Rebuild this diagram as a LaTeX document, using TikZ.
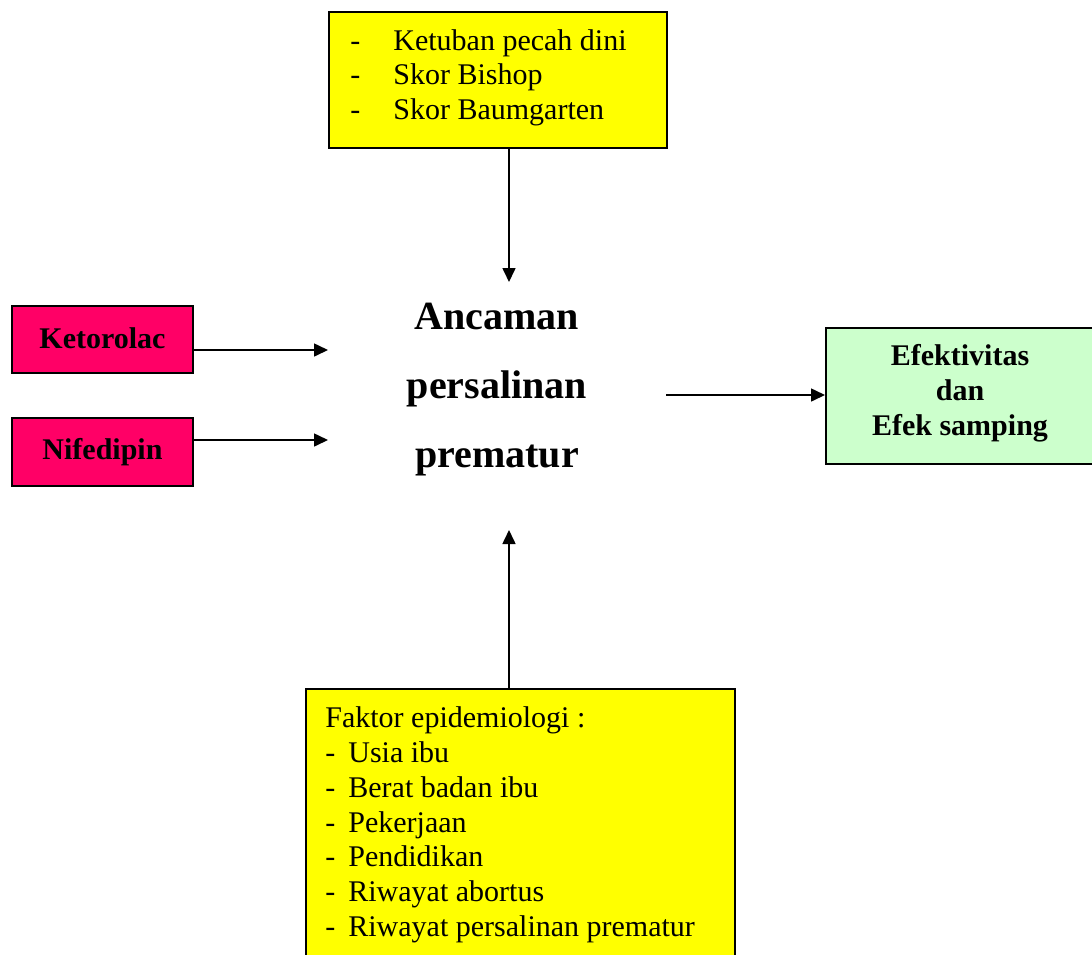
\documentclass[tikz,border=0pt]{standalone}
\usepackage{fontspec}
\setmainfont{Liberation Serif}
\usetikzlibrary{arrows.meta}
\definecolor{boxyellow}{HTML}{FFFF00}
\definecolor{boxpink}{HTML}{FF0066}
\definecolor{boxgreen}{HTML}{CCFFCC}
\begin{document}
\begin{tikzpicture}[x=0.5pt,y=-0.5pt,
  box/.style={draw=black, line width=1pt, inner sep=0pt, anchor=north west},
  txt/.style={inner sep=0pt, font=\fontsize{15}{17}\selectfont},
  conn/.style={line width=0.8pt, -{Triangle[length=7pt,width=6.5pt]}}]
\useasboundingbox[fill=white] (0,0) rectangle (1092,954);
% top box
\node[box, fill=boxyellow, minimum width=169pt, minimum height=68pt] (risk) at (328,11) {};
\node[txt, anchor=west, font=\fontsize{15}{17.3}\selectfont] (risktxt) at (350,78) {\begin{tabular}{@{}p{21.5pt}@{}l@{}}-&Ketuban pecah dini\\-&Skor Bishop\\-&Skor Baumgarten\end{tabular}};
% drug boxes
\node[box, fill=boxpink, minimum width=90.5pt, minimum height=33.5pt, font=\fontsize{15}{17}\selectfont\bfseries] (keto) at (11,305) {\raisebox{1.5pt}{Ketorolac}};
\node[box, fill=boxpink, minimum width=90.5pt, minimum height=34pt, font=\fontsize{15}{17}\selectfont\bfseries] (nife) at (11,417) {\raisebox{1pt}{Nifedipin}};
% central text
\node[align=center, inner sep=0pt, font=\fontsize{20}{34.5}\selectfont\bfseries] (threat) at (497,390) {Ancaman\\persalinan\\prematur};
% outcome box
\node[box, fill=boxgreen, minimum width=136pt, minimum height=68pt] (outcome) at (825,327) {};
\node[txt, align=center, font=\fontsize{15}{17.5}\selectfont\bfseries] (outtxt) at (960,393.5) {Efektivitas\\dan\\Efek samping};
% bottom box
\node[box, fill=boxyellow, minimum width=214.5pt, minimum height=140pt] (epi) at (305,688) {};
\node[txt, anchor=north west] (epitxt) at (325,703) {\def\arraystretch{1.0235}\begin{tabular}{@{}l@{}}Faktor epidemiologi :\\\makebox[11.5pt][l]{-}Usia ibu\\\makebox[11.5pt][l]{-}Berat badan ibu\\\makebox[11.5pt][l]{-}Pekerjaan\\\makebox[11.5pt][l]{-}Pendidikan\\\makebox[11.5pt][l]{-}Riwayat abortus\\\makebox[11.5pt][l]{-}Riwayat persalinan prematur\end{tabular}};
% connector ends
\coordinate (downend) at (509,282);
\coordinate (upend) at (509,530);
\coordinate (ketoend) at (328,350);
\coordinate (nifeend) at (328,440);
\coordinate (rstart) at (666,395);
\draw[conn] (risk.south -| downend) -- (downend);
\draw[conn] (epi.north -| upend) -- (upend);
\draw[conn] (keto.east |- ketoend) -- (ketoend);
\draw[conn] (nife.east |- nifeend) -- (nifeend);
\draw[conn] (rstart) -- (rstart -| outcome.west);
\end{tikzpicture}
\end{document}
